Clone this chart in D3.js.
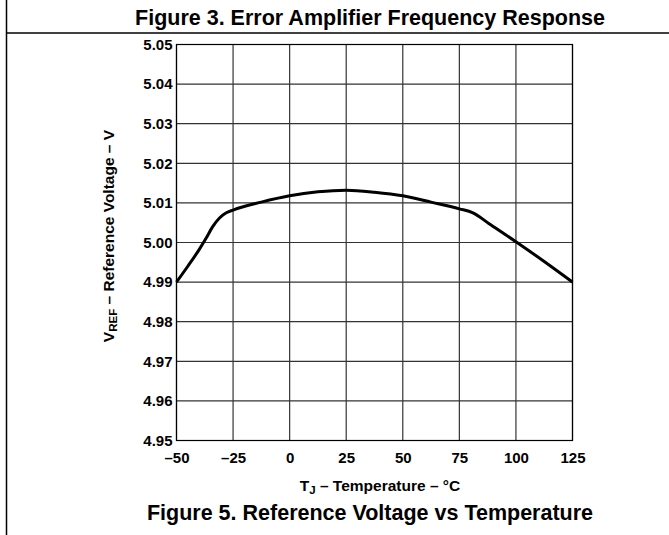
<!DOCTYPE html>
<html>
<head>
<meta charset="utf-8">
<script src="https://cdn.jsdelivr.net/npm/d3@7"></script>
<style>
  body { margin: 0; background: #fff; }
  svg { display: block; }
  text { font-family: "Liberation Sans", Arial, sans-serif; font-weight: bold; fill: #000; }
</style>
</head>
<body>
<svg id="chart" width="669" height="535"></svg>
<script>
// ---- data ----
const temperatures = [-50, -45, -40, -37, -34, -31, -28, -25, -12.5, 0, 12.5, 25, 37.5, 50, 62.5, 75, 81, 88, 100, 112.5, 125];
const vref =         [4.990, 4.9940, 4.9982, 5.0010, 5.0040, 5.0062, 5.0075, 5.0082, 5.0102, 5.0118, 5.0128, 5.0132, 5.0127, 5.0118, 5.0102, 5.0085, 5.0075, 5.0048, 5.0002, 4.9952, 4.990];
const xTickValues = [-50, -25, 0, 25, 50, 75, 100, 125];
const yTickValues = [4.95, 4.96, 4.97, 4.98, 4.99, 5.00, 5.01, 5.02, 5.03, 5.04, 5.05];
const topTitle = "Figure 3. Error Amplifier Frequency Response";
const bottomTitle = "Figure 5. Reference Voltage vs Temperature";

(function () {
const svg = d3.select("#chart");
const W = 669, H = 535;
const pL = 176.5, pR = 572.5, pT = 44.5, pB = 440.5;

const x = d3.scaleLinear().domain([-50, 125]).range([pL, pR]);
const y = d3.scaleLinear().domain([4.95, 5.05]).range([pB, pT]);

// frame lines
svg.append("line").attr("x1", 6.5).attr("x2", 6.5).attr("y1", 0).attr("y2", H)
  .attr("stroke", "#000").attr("stroke-width", 1.5);
svg.append("line").attr("x1", 6).attr("x2", W).attr("y1", 33).attr("y2", 33)
  .attr("stroke", "#000").attr("stroke-width", 1.5);

svg.append("text").attr("x", 370).attr("y", 24.5).attr("text-anchor", "middle")
  .style("font-size", "21.5px").text(topTitle);

// grid
const grid = svg.append("g");
grid.selectAll("line.v").data(xTickValues).join("line").attr("class", "v")
  .attr("x1", d => x(d)).attr("x2", d => x(d)).attr("y1", pT).attr("y2", pB)
  .attr("stroke", "#333").attr("stroke-width", 1.2);
grid.selectAll("line.h").data(yTickValues).join("line").attr("class", "h")
  .attr("x1", pL).attr("x2", pR).attr("y1", d => y(d)).attr("y2", d => y(d))
  .attr("stroke", "#333").attr("stroke-width", 1.2);
svg.append("rect").attr("x", pL).attr("y", pT).attr("width", pR - pL).attr("height", pB - pT)
  .attr("fill", "none").attr("stroke", "#000").attr("stroke-width", 1.2);

// axes
const yAxis = d3.axisLeft(y).tickValues(yTickValues).tickFormat(d3.format(".2f")).tickSize(0).tickPadding(4);
const gy = svg.append("g").attr("transform", `translate(${pL},0)`).call(yAxis);
gy.select(".domain").remove();
gy.selectAll("text").style("font-size", "15px").style("font-family", '"Liberation Sans", Arial, sans-serif').attr("font-weight", "bold");

const xAxis = d3.axisBottom(x).tickValues(xTickValues)
  .tickFormat(d => (d < 0 ? "\u2013" + Math.abs(d) : String(d))).tickSize(0).tickPadding(12);
const gx = svg.append("g").attr("transform", `translate(0,${pB})`).call(xAxis);
gx.select(".domain").remove();
gx.selectAll("text").style("font-size", "15px").style("font-family", '"Liberation Sans", Arial, sans-serif').attr("font-weight", "bold");

// curve
const line = d3.line().x((d, i) => x(temperatures[i])).y(d => y(d)).curve(d3.curveMonotoneX);
svg.append("path").datum(vref).attr("d", line)
  .attr("fill", "none").attr("stroke", "#000").attr("stroke-width", 3).attr("stroke-linejoin", "round");

// axis titles
const xt = svg.append("text").attr("x", 380).attr("y", 491).attr("text-anchor", "middle").style("font-size", "15.5px");
xt.append("tspan").text("T");
xt.append("tspan").attr("dy", 3).style("font-size", "11.5px").text("J");
xt.append("tspan").attr("dy", -3).text(" \u2013 Temperature \u2013 \u00B0C");

const yt = svg.append("text").attr("transform", "translate(114,236) rotate(-90)").attr("text-anchor", "middle").style("font-size", "15.5px");
yt.append("tspan").text("V");
yt.append("tspan").attr("dy", 3).style("font-size", "11.5px").text("REF");
yt.append("tspan").attr("dy", -3).text(" \u2013 Reference Voltage \u2013 V");

svg.append("text").attr("x", 370).attr("y", 520).attr("text-anchor", "middle")
  .style("font-size", "21.5px").text(bottomTitle);
})();
</script>
</body>
</html>
